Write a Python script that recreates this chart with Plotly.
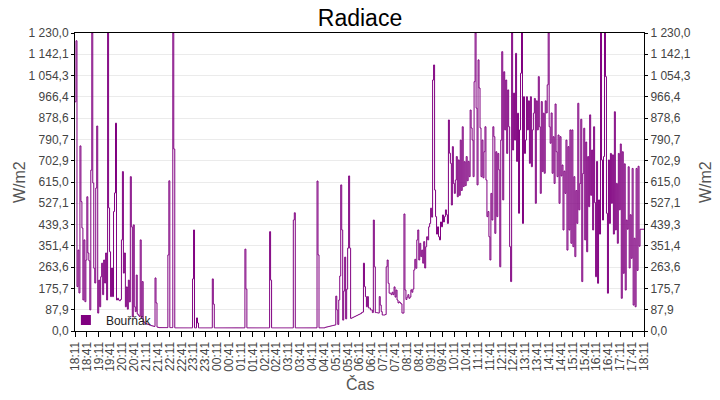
import pandas as pd
import plotly.graph_objects as go

# ---------------- data (2.5-minute samples from 18:11) ----------------
SERIES_NAME = "Bouřňák"
START, STEP = "2023-06-20 18:11:00", "150s"

# 18:11 - 22:08
evening = [946, 1198, 183, 334, 157, 764, 534, 425, 128, 376,
           121, 293, 554, 322, 290, 87, 664, 1230, 611, 259,
           198, 590, 846, 74, 210, 100, 224, 280, 150, 293,
           198, 322, 128, 1230, 508, 327, 142, 260, 142, 493,
           570, 858, 128, 135, 128, 125, 130, 376, 658, 239,
           322, 100, 182, 90, 210, 120, 637, 430, 59, 438,
           100, 80, 231, 70, 65, 60, 376, 55, 204, 40,
           33, 32, 30, 28, 27, 25, 24, 22, 21, 20,
           19, 219, 116, 16, 15, 14, 14, 14, 14, 14,
           14, 14, 14, 14, 314, 620]

# 22:11 - 06:13
night = ([14, 14, 14, 1230, 751] + [13] * 18 + [215, 417, 13, 13, 54, 33] +
         [13] * 14 + [215, 111] + [13] * 31 + [338, 173] + [13] * 23 +
         [410, 210] + [13] * 22 + [458, 488] + [13] * 22 + [619, 314] +
         [13] * 6 + [15, 16, 17, 18, 19, 20, 21, 22, 23, 24, 25] +
         [144, 87, 27, 128, 227, 603, 417, 45, 165, 305, 50, 173, 342, 640,
          342, 52, 54, 56, 58, 60, 62, 64, 66, 68, 70, 72])

# 06:16 - 08:28
morning = [76, 78, 280, 183, 142, 100, 142, 95, 95, 87,
           87, 76, 458, 265, 76, 76, 75, 74, 142, 107,
           80, 66, 66, 66, 68, 265, 293, 197, 156, 156,
           150, 160, 150, 182, 140, 169, 128, 116, 120, 116,
           112, 74, 74, 483, 169, 130, 140, 150, 135, 140,
           170, 160, 173, 252]

# 08:31 - 18:11
daytime = [296, 259, 376, 417, 293, 362, 307, 334, 280, 369,
           260, 348, 389, 376, 430, 444, 507, 470, 1036, 1098,
           582, 472, 400, 430, 389, 376, 450, 430, 479, 450,
           472, 500, 480, 444, 871, 734, 692, 520, 761, 609,
           568, 623, 720, 554, 706, 560, 788, 580, 843, 596,
           699, 600, 720, 620, 700, 637, 912, 838, 788, 637,
           1029, 1230, 920, 603, 1119, 1003, 838, 637, 788, 632,
           740, 843, 623, 472, 493, 389, 293, 568, 458, 843,
           802, 403, 740, 472, 733, 665, 265, 788, 1153, 541,
           1070, 830, 1036, 733, 995, 843, 348, 204, 1230, 747,
           982, 788, 1146, 700, 899, 486, 830, 1064, 1230, 444,
           967, 733, 788, 967, 830, 950, 692, 967, 678, 830,
           899, 960, 527, 950, 830, 1050, 843, 568, 947, 658,
           899, 651, 950, 900, 1016, 1230, 843, 775, 900, 651,
           802, 609, 937, 740, 637, 809, 527, 802, 640, 685,
           417, 660, 568, 788, 334, 761, 417, 830, 362, 830,
           348, 637, 307, 580, 444, 940, 500, 609, 874, 204,
           650, 837, 376, 780, 327, 720, 513, 892, 560, 747,
           417, 843, 530, 224, 700, 197, 541, 400, 1230, 706,
           458, 720, 1230, 1050, 486, 156, 706, 444, 733, 527,
           727, 400, 905, 417, 609, 362, 733, 500, 772, 135,
           740, 238, 690, 169, 458, 420, 678, 260, 480, 300,
           671, 107, 383, 100, 671, 250, 680, 350, 420, 420,
           420, 420, 420]

values = evening + night + morning + daytime
times = pd.date_range(start=START, periods=len(values), freq=STEP)

X_START = pd.Timestamp(START)
X_END = X_START + pd.Timedelta(hours=24)

y_max = 1230.0
y_ticktext = ["0,0", "87,9", "175,7", "263,6", "351,4", "439,3", "527,1",
              "615,0", "702,9", "790,7", "878,6", "966,4", "1 054,3",
              "1 142,1", "1 230,0"]
y_tickvals = [y_max * k / (len(y_ticktext) - 1) for k in range(len(y_ticktext))]

# ---------------- style ----------------
PURPLE = "#800080"
FONT = "Liberation Sans, Arial, sans-serif"
TICK_COLOR = "#444444"
TITLE_COLOR = "#555555"
GRID = "#ebebeb"

fig = go.Figure()
fig.add_trace(go.Scatter(
    x=[None], y=[None], mode="markers", name=SERIES_NAME,
    marker=dict(symbol="square", size=10, color=PURPLE)))
fig.add_trace(go.Scatter(
    x=times, y=values, mode="lines", line=dict(color=PURPLE, width=1, shape="hv"),
    showlegend=False, hoverinfo="skip"))
fig.add_trace(go.Scatter(x=[times[0]], y=[None], yaxis="y2", showlegend=False,
                         hoverinfo="skip"))

fig.update_layout(
    width=720, height=400,
    margin=dict(l=75, r=76, t=33, b=69, autoexpand=False),
    paper_bgcolor="white", plot_bgcolor="white",
    font=dict(family=FONT, size=12, color=TICK_COLOR),
    title=dict(text="Radiace", x=0.5, xanchor="center", y=1 - 18 / 400,
               yanchor="middle", font=dict(family=FONT, size=23, color="#000000")),
    xaxis=dict(
        type="date", range=[X_START, X_END], tick0=X_START, dtick=30 * 60 * 1000,
        tickformat="%H:%M", tickangle=-90, ticks="outside", ticklen=5,
        tickcolor="#000000", showline=True, linecolor="#000000", linewidth=1,
        mirror=True, showgrid=False, zeroline=False, automargin=False,
        tickfont=dict(family=FONT, size=12, color=TICK_COLOR)),
    yaxis=dict(
        range=[0, y_max], tickvals=y_tickvals, ticktext=y_ticktext,
        ticks="outside", ticklen=3, tickcolor="#000000",
        showline=True, linecolor="#000000", linewidth=1, mirror=True,
        showgrid=True, gridcolor=GRID, gridwidth=1, zeroline=False, automargin=False,
        tickfont=dict(family=FONT, size=12, color=TICK_COLOR)),
    yaxis2=dict(
        overlaying="y", side="right", range=[0, y_max], tickvals=y_tickvals,
        ticktext=y_ticktext, ticks="outside", ticklen=3, tickcolor="#000000",
        showline=True, linecolor="#000000", linewidth=1, showgrid=False,
        zeroline=False, automargin=False,
        tickfont=dict(family=FONT, size=12, color=TICK_COLOR)),
    legend=dict(x=-0.016, y=-0.012, xanchor="left", yanchor="bottom",
                bgcolor="rgba(0,0,0,0)", borderwidth=0,
                font=dict(family=FONT, size=12, color="#222222"),
                itemwidth=30, tracegroupgap=0),
    showlegend=True,
    annotations=[
        dict(text="W/m2", xref="paper", yref="paper", x=0, y=0.5, xshift=-56,
             textangle=-90, showarrow=False, xanchor="center", yanchor="middle",
             font=dict(family=FONT, size=16, color=TITLE_COLOR)),
        dict(text="W/m2", xref="paper", yref="paper", x=1, y=0.5, xshift=61,
             textangle=-90, showarrow=False, xanchor="center", yanchor="middle",
             font=dict(family=FONT, size=16, color=TITLE_COLOR)),
        dict(text="Čas", xref="paper", yref="paper", x=0.5, y=0, yshift=-53,
             showarrow=False, xanchor="center", yanchor="middle",
             font=dict(family=FONT, size=16, color=TITLE_COLOR)),
    ],
)

fig.write_html("out.html")
